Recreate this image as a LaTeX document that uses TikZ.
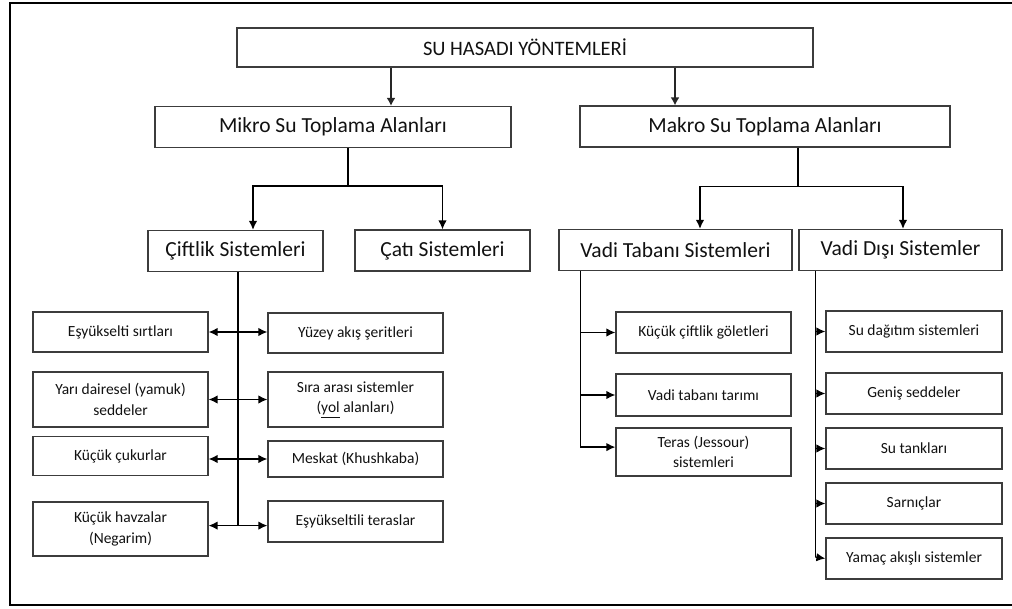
\documentclass[tikz,border=0pt]{standalone}
\usepackage{fontspec}
\setmainfont{Carlito}
\usepackage{xcolor}
\usetikzlibrary{arrows.meta,calc}
\definecolor{Ink}{HTML}{111111}
\definecolor{Edge}{HTML}{3C3C3C}

\begin{document}
\begin{tikzpicture}[x=1pt, y=-1pt,
  box/.style={draw=Edge, line width=1.2pt, align=center, inner sep=0pt, text=Ink},
  head/.style={box, minimum height=39pt, font=\fontsize{20.5}{24}\selectfont},
  mid/.style={box, minimum height=41pt, font=\fontsize{21.5}{25}\selectfont},
  leaf/.style={box, minimum width=175pt, font=\fontsize{15.5}{20.5}\selectfont},
  link/.style={line width=1.5pt, draw=black},
  arrow/.style={link, -{Latex[length=9pt,width=8.5pt]}},
  both/.style={link, {Latex[length=9pt,width=8.5pt]}-{Latex[length=9pt,width=8.5pt]}},
  bigarrow/.style={line width=2.8pt, draw=black!85, -{Latex[length=8pt,width=9pt]}}
]
\useasboundingbox (0,0) rectangle (1012,608);
\draw[line width=2.6pt] (1020,3) -- (10,3) -- (10,605) -- (1020,605);

\node[head, minimum width=576pt] (top) at (525,47.5) {SU HASADI YÖNTEMLERİ};
\node[mid, minimum width=356pt] (mikro) at (333,127) {Mikro Su Toplama Alanları};
\node[mid, minimum width=370pt] (makro) at (765,126.5) {Makro Su Toplama Alanları};
\node[mid, minimum width=175pt] (ciftlik) at (235.5,251) {Çiftlik Sistemleri};
\node[mid, minimum width=175pt] (cati) at (442.5,250.5) {Çatı Sistemleri};
\node[mid, minimum width=233pt] (vtaban) at (675.5,250) {Vadi Tabanı Sistemleri};
\node[mid, minimum width=203pt] (vdisi) at (900.5,250) {Vadi Dışı Sistemler};

\node[leaf, minimum height=40pt] (esyuk) at (120.5,332) {Eşyükselti sırtları};
\node[leaf, minimum height=55pt] (yari) at (120.5,399.5) {Yarı dairesel (yamuk)\\seddeler};
\node[leaf, minimum height=39pt] (cukur) at (120.5,456) {Küçük çukurlar};
\node[leaf, minimum height=54pt] (havza) at (120.5,529) {Küçük havzalar\\(Negarim)};
\node[leaf, minimum height=40pt] (yuzey) at (355.5,333) {Yüzey akış şeritleri};
\node[leaf, minimum height=55pt] (sira) at (355.5,399.5) {Sıra arası sistemler\\(\underline{yol} alanları)};
\node[leaf, minimum height=36pt] (meskat) at (355.5,459) {Meskat (Khushkaba)};
\node[leaf, minimum height=41pt] (esyter) at (355.5,521.5) {Eşyükseltili teraslar};

\node[leaf, minimum height=41pt] (golet) at (703.5,332.5) {Küçük çiftlik göletleri};
\node[leaf, minimum height=42pt] (tarim) at (703.5,395) {Vadi tabanı tarımı};
\node[leaf, minimum height=48pt] (teras) at (703.5,452) {Teras (Jessour)\\sistemleri};

\node[leaf, minimum width=176pt, minimum height=41pt] (dagitim) at (914,331.5) {Su dağıtım sistemleri};
\node[leaf, minimum width=176pt, minimum height=41pt] (genis) at (914,393.5) {Geniş seddeler};
\node[leaf, minimum width=176pt, minimum height=41pt] (tank) at (914,448.5) {Su tankları};
\node[leaf, minimum width=176pt, minimum height=41pt] (sarnic) at (914,503.5) {Sarnıçlar};
\node[leaf, minimum width=176pt, minimum height=41pt] (yamac) at (914,558.5) {Yamaç akışlı sistemler};

\coordinate (tl) at ($(mikro.north)+(58,0)$);
\coordinate (tr) at ($(makro.north)+(-90,0)$);
\draw[bigarrow] (top.south -| tl) -- (tl);
\draw[bigarrow] (top.south -| tr) -- (tr);

\coordinate (mj) at ($(mikro.south)+(15,38)$);
\draw[link] (mikro.south -| mj) -- (mj);
\draw[arrow] (mj) -| ($(ciftlik.north)+(17.5,0)$);
\draw[arrow] (mj) -| (cati.north);

\coordinate (mk) at ($(makro.south)+(33,39)$);
\draw[link] (makro.south -| mk) -- (mk);
\draw[arrow] (mk) -| ($(vtaban.north)+(24.5,0)$);
\draw[arrow] (mk) -| ($(vdisi.north)+(2.5,0)$);

\coordinate (cend) at ($(ciftlik.south)+(2.5,253.5)$);
\draw[link] (ciftlik.south -| cend) -- (cend);
\draw[both] (esyuk.east) -- (esyuk.east -| yuzey.west);
\draw[both] (yari.east) -- (yari.east -| sira.west);
\draw[both] (cukur.east |- meskat) -- (meskat.west);
\draw[both] (havza.east |- cend) -- (esyter.west |- cend);

\coordinate (tend) at ($(vtaban.south west)+(22,176)$);
\draw[link] (vtaban.south west -| tend) -- (tend);
\draw[arrow] (tend |- golet.west) -- (golet.west);
\draw[arrow] (tend |- tarim.west) -- (tarim.west);
\draw[arrow] (tend) -- (tend -| teras.west);

\coordinate (dend) at ($(vdisi.south west)+(17,286)$);
\draw[link] (vdisi.south west -| dend) -- (dend);
\draw[arrow] (dend |- dagitim.west) -- (dagitim.west);
\draw[arrow] (dend |- genis.west) -- (genis.west);
\draw[arrow] (dend |- tank.west) -- (tank.west);
\draw[arrow] (dend |- sarnic.west) -- (sarnic.west);
\draw[arrow] (dend) -- (yamac.west);
\end{tikzpicture}
\end{document}
